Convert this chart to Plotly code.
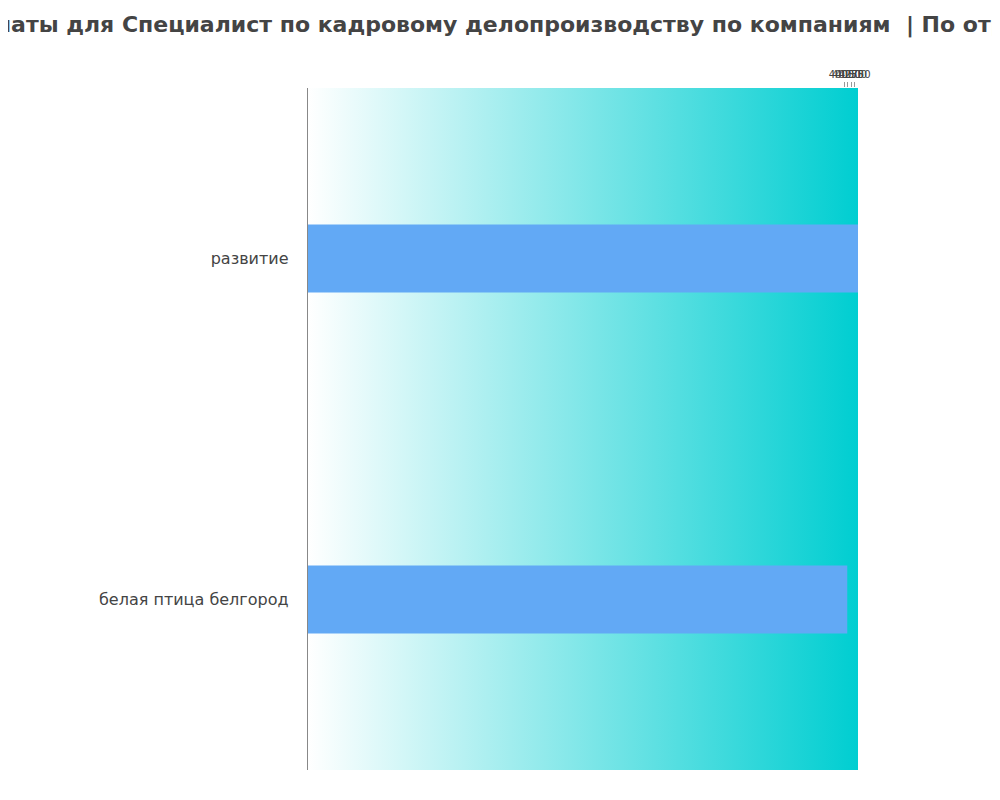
import base64
import plotly.graph_objects as go

companies = ["белая птица белгород", "развитие"]
salaries = [40200, 41000]
tick_values = [40000, 40250, 40500, 40750]
tick_labels = ["40000", "40250", "40500", "40750"]

svg = ('<svg xmlns="http://www.w3.org/2000/svg" width="550" height="682" preserveAspectRatio="none">'
       '<defs><linearGradient id="g" x1="0" y1="0" x2="1" y2="0">'
       '<stop offset="0" stop-color="#ffffff"/><stop offset="1" stop-color="#00ced1"/>'
       '</linearGradient></defs><rect width="550" height="682" fill="url(#g)"/></svg>')
bg = "data:image/svg+xml;base64," + base64.b64encode(svg.encode()).decode()

fig = go.Figure(go.Bar(
    x=salaries, y=companies, orientation="h",
    marker=dict(color="#62a9f5", line=dict(width=0)),
    width=0.2,
))

fig.update_layout(
    width=1000, height=800,
    paper_bgcolor="white", plot_bgcolor="white",
    margin=dict(l=300, r=150, t=80, b=38, autoexpand=False),
    title=dict(text="<b>Зарплаты для Специалист по кадровому делопроизводству по компаниям  | По отраслям</b>",
               x=0.5, xanchor="center", y=0.98, yanchor="middle",
               font=dict(family="DejaVu Sans", size=22, color="#444444")),
    font=dict(family="DejaVu Sans", color="#444444"),
    showlegend=False,
    images=[dict(source=bg, xref="paper", yref="paper", x=0, y=1, sizex=1, sizey=1,
                 sizing="stretch", layer="below", xanchor="left", yanchor="top")],
    bargap=0.8,
)
fig.update_xaxes(side="top", range=[0, 41000], tickvals=tick_values, ticktext=tick_labels,
                 ticks="outside", ticklen=5, tickcolor="#999999", showgrid=False,
                 zeroline=False, tickangle=0, tickfont=dict(size=10))
fig.update_yaxes(showline=True, linecolor="#888888", showgrid=False, ticks="",
                 tickfont=dict(size=16), ticksuffix="   ")

fig.write_html("out.html")
